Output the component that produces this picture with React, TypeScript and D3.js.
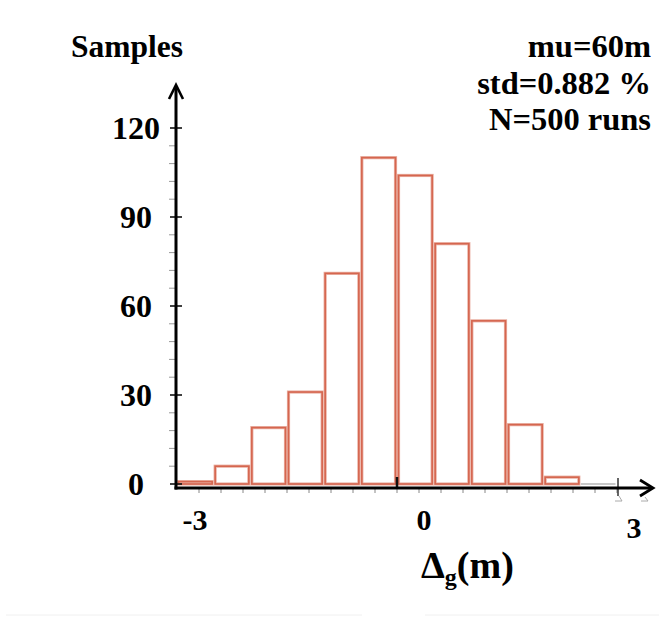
import React from "react";
import * as d3 from "d3";

const binStarts = [-3, -2.5, -2, -1.5, -1, -0.5, 0, 0.5, 1, 1.5, 2, 2.5];
const binCounts = [0.8, 6, 19, 31, 71, 110, 104, 81, 55, 20, 2.3, 0];
const binWidth = 0.5;
const yMajorTicks = [0, 30, 60, 90, 120];
const yMinorTicks = d3.range(0, 121, 6).filter((v) => v % 30 !== 0);
const xMinorTicks = d3.range(-2.7, 3.01, 0.3);
const xLabels = [
  { v: -3, text: "-3" },
  { v: 0, text: "0" },
  { v: 3, text: "3" },
];
const infoLines = ["mu=60m", "std=0.882 %", "N=500 runs"];

const FONT = "'Liberation Serif', 'Times New Roman', serif";

export default function App() {
  const x = d3.scaleLinear().domain([-3, 3]).range([177, 617]);
  const y = d3.scaleLinear().domain([0, 120]).range([484, 128]);
  const axisY = y(0) + 4;
  const axisX = 176;
  const barColor = "#d5664f";
  const labelDx: Record<string, number> = { "-3": 18, "0": 27, "3": 17 };
  const labelDy: Record<string, number> = { "-3": 42, "0": 42, "3": 50 };

  return (
    <svg
      width={659}
      height={619}
      style={{ position: "absolute", left: 0, top: 0, background: "#fff" }}
    >
      {/* faint bottom border */}
      <line x1={6} x2={362} y1={615} y2={615} stroke="#f0f0f0" strokeWidth={1} />
      <line x1={425} x2={659} y1={615} y2={615} stroke="#f0f0f0" strokeWidth={1} />

      {/* bars */}
      {binStarts.map((s, i) => {
        const c = binCounts[i];
        const x0 = x(s) + 1.5;
        const x1 = x(s + binWidth) - 1.5;
        if (c <= 0) {
          return (
            <line
              key={i}
              x1={x0 - 1}
              x2={x1}
              y1={y(0)}
              y2={y(0)}
              stroke="#c8c8c8"
              strokeWidth={2}
            />
          );
        }
        return (
          <g key={i}>
            <rect
              x={x0}
              y={y(c)}
              width={x1 - x0}
              height={y(0) - y(c)}
              fill="#fff"
              stroke="#eab1a4"
              strokeWidth={3.2}
            />
            <rect
              x={x0}
              y={y(c)}
              width={x1 - x0}
              height={y(0) - y(c)}
              fill="none"
              stroke={barColor}
              strokeWidth={1.6}
            />
          </g>
        );
      })}

      {/* y minor ticks */}
      {yMinorTicks.map((v) => (
        <line
          key={"ym" + v}
          x1={axisX - 7}
          x2={axisX}
          y1={y(v)}
          y2={y(v)}
          stroke="#999"
          strokeWidth={1}
        />
      ))}
      {/* y major ticks */}
      {yMajorTicks.map((v) => (
        <line
          key={"yM" + v}
          x1={axisX - 6}
          x2={axisX + 6}
          y1={y(v)}
          y2={y(v)}
          stroke="#111"
          strokeWidth={1.6}
        />
      ))}
      {/* y axis */}
      <line x1={axisX} x2={axisX} y1={axisY + 1.5} y2={86} stroke="#000" strokeWidth={3} />
      <polyline
        points={`${axisX - 7},${99} ${axisX},${85} ${axisX + 7},${99}`}
        fill="none"
        stroke="#000"
        strokeWidth={2.6}
      />

      {/* x minor ticks */}
      {xMinorTicks.map((v, i) => (
        <line
          key={"xm" + i}
          x1={x(v)}
          x2={x(v)}
          y1={axisY}
          y2={axisY + 5}
          stroke="#888"
          strokeWidth={1}
        />
      ))}
      <line x1={x(0)} x2={x(0)} y1={y(0) - 7} y2={axisY} stroke="#111" strokeWidth={2.5} />
      <line x1={x(3) + 1} x2={x(3) + 1} y1={axisY - 10} y2={axisY + 8} stroke="#333" strokeWidth={1.5} />
      <path
        d={`M${x(3) - 2},${axisY + 13} L${x(3) + 5},${axisY + 13} L${x(3) + 2},${axisY + 8}`}
        fill="none"
        stroke="#aaa"
        strokeWidth={1}
      />
      {/* x axis */}
      <line x1={axisX - 1.5} x2={651} y1={axisY} y2={axisY} stroke="#000" strokeWidth={3} />
      <polyline
        points={`${640},${axisY - 8} ${653},${axisY} ${640},${axisY + 8}`}
        fill="none"
        stroke="#000"
        strokeWidth={2.8}
      />
      <path
        d={`M${641},${axisY + 13} L${648},${axisY + 13} L${645},${axisY + 9}`}
        fill="none"
        stroke="#aaa"
        strokeWidth={1}
      />

      {/* y labels */}
      {yMajorTicks.map((v) => (
        <text
          key={"yl" + v}
          x={136}
          y={y(v) + 11}
          textAnchor="middle"
          fontFamily={FONT}
          fontWeight="bold"
          fontSize={32}
          fill="#000"
        >
          {v}
        </text>
      ))}

      {/* x labels */}
      {xLabels.map((l) => (
        <text
          key={"xl" + l.text}
          x={x(l.v) + labelDx[l.text]}
          y={axisY + labelDy[l.text]}
          textAnchor="middle"
          fontFamily={FONT}
          fontWeight="bold"
          fontSize={30}
          fill="#000"
        >
          {l.text}
        </text>
      ))}

      {/* axis titles */}
      <text x={71} y={57} fontFamily={FONT} fontWeight="bold" fontSize={31.5} fill="#000">
        Samples
      </text>
      <text x={421} y={578} fontFamily={FONT} fontWeight="bold" fontSize={38} fill="#000">
        Δ
        <tspan fontSize={24} dy={7}>
          g
        </tspan>
        <tspan dy={-7}>(m)</tspan>
      </text>

      {/* info */}
      {infoLines.map((t, i) => (
        <text
          key={t}
          x={651}
          y={57 + i * 36.5}
          textAnchor="end"
          fontFamily={FONT}
          fontWeight="bold"
          fontSize={32.5}
          fill="#000"
        >
          {t}
        </text>
      ))}
    </svg>
  );
}
